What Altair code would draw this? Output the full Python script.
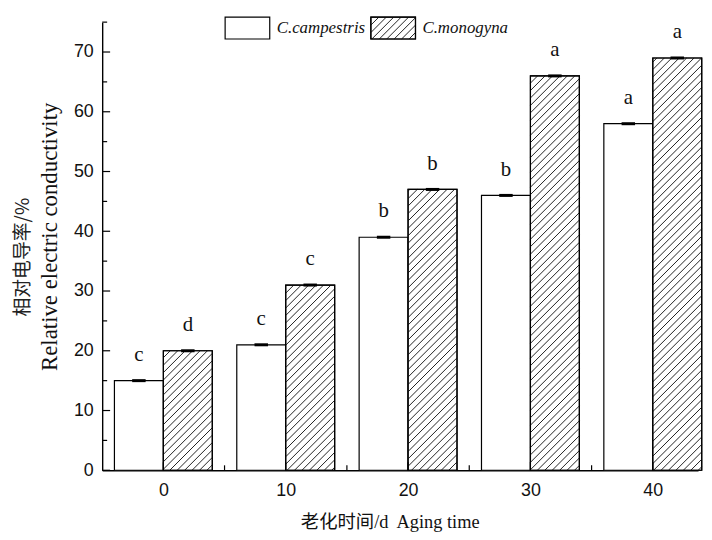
import altair as alt
import pandas as pd
import numpy as np

# ---- data ----
times = [0, 10, 20, 30, 40]
campestris = [15, 21, 39, 46, 58]
monogyna = [20, 31, 47, 66, 69]
err_campestris = [0.25, 0.25, 0.25, 0.25, 0.25]
err_monogyna = [0.25, 0.25, 0.25, 0.25, 0.25]
letters_campestris = ["c", "c", "b", "b", "a"]
letters_monogyna = ["d", "c", "b", "a", "a"]
series_names = ["C.campestris", "C.monogyna"]
y_major = [0, 10, 20, 30, 40, 50, 60, 70]
y_minor = [5, 15, 25, 35, 45, 55, 65, 75]
x_major = [0, 10, 20, 30, 40]
x_minor = [5, 15, 25, 35]

# ---- layout ----
W, H = 601, 452
XMIN, XMAX, YMAX = -5, 43.7, 75
BW = 4.0
sx = W / (XMAX - XMIN)
sy = H / YMAX
HATCH = 7.5  # px between hatch lines (horizontal)

xs = alt.Scale(domain=[XMIN, XMAX], nice=False, zero=False)
ys = alt.Scale(domain=[0, YMAX], nice=False, zero=True)

SERIF = "Liberation Serif, Noto Sans CJK SC"
SANS = "Liberation Sans"


def px2x(p):
    return XMIN + p / sx


def px2y(p):
    return YMAX - p / sy


def hatch_segments(x0, y0, wpx, hpx):
    """45-degree '/' hatch lines inside a box whose lower-left corner is (x0, y0) in data units."""
    out = []
    c = -hpx - (hpx % HATCH)
    while c < wpx:
        xa = max(0.0, c)
        xb = min(wpx, hpx + c)
        if xb > xa:
            out.append({"hx0": x0 + xa / sx, "hy0": y0 + (xa - c) / sy,
                        "hx1": x0 + xb / sx, "hy1": y0 + (xb - c) / sy})
        c += HATCH
    return out


# bars
dfc = pd.DataFrame({"x0": [t - BW for t in times], "x1": times, "v": campestris,
                    "b": [0] * len(times)})
dfm = pd.DataFrame({"x0": times, "x1": [t + BW for t in times], "v": monogyna,
                    "b": [0] * len(times)})

# legend boxes (placed at the top of the plot, converted to data units)
LBX = [(124, 169), (271, 316)]
LBY = (-5, 17)
dfl = pd.DataFrame({"x0": [px2x(a) for a, _ in LBX], "x1": [px2x(b) for _, b in LBX],
                    "v": [px2y(LBY[0])] * 2, "b": [px2y(LBY[1])] * 2,
                    "tx": [px2x(b + 7) for _, b in LBX], "ty": [px2y(6)] * 2,
                    "lab": series_names})

segs = []
for t, v in zip(times, monogyna):
    segs += hatch_segments(t, 0.0, BW * sx, v * sy)
segs += hatch_segments(px2x(LBX[1][0]), px2y(LBY[1]), LBX[1][1] - LBX[1][0], LBY[1] - LBY[0])
dfh = pd.DataFrame(segs)

# error bars and letters
dfe = pd.DataFrame({
    "cx": [t - BW / 2 for t in times] + [t + BW / 2 for t in times],
    "v": campestris + monogyna,
    "e": err_campestris + err_monogyna,
    "lab": letters_campestris + letters_monogyna,
})
dfe["ex0"] = dfe["cx"] - 0.55
dfe["ex1"] = dfe["cx"] + 0.55
dfe["ey0"] = dfe["v"] - dfe["e"]
dfe["ey1"] = dfe["v"] + dfe["e"]

x_axis = alt.Axis(values=x_major, format="d", ticks=False, grid=False,
                  domainColor="black", domainWidth=1.4,
                  labelFont=SANS, labelFontSize=18, labelColor="#111",
                  labelPadding=11,
                  title="老化时间/d\u00a0 Aging time", titleFont=SERIF,
                  titleFontSize=18.5, titleFontWeight="normal", titleColor="#111",
                  titleX=290, titleY=52, titleAlign="center", titleBaseline="middle")
y_axis = alt.Axis(values=y_major, format="d", ticks=False, grid=False,
                  domainColor="black", domainWidth=1.4,
                  labelFont=SANS, labelFontSize=18, labelColor="#111",
                  labelPadding=9,
                  title="Relative electric conductivity", titleFont=SERIF,
                  titleFontSize=23, titleFontWeight="normal", titleColor="#111",
                  titleAngle=270, titleX=-53, titleY=216,
                  titleAlign="center", titleBaseline="middle")

# white bars + legend boxes (white background, black frame)
boxes = pd.concat([dfc, dfm, dfl[["x0", "x1", "v", "b"]]], ignore_index=True)
white = alt.Chart(boxes).mark_rect(fill="white", stroke="black", strokeWidth=1.2).encode(
    x=alt.X("x0:Q", scale=xs, axis=x_axis), x2="x1:Q",
    y=alt.Y("v:Q", scale=ys, axis=y_axis), y2="b:Q")

hatch = alt.Chart(dfh).mark_rule(stroke="#222", strokeWidth=1).encode(
    x=alt.X("hx0:Q", scale=xs, axis=x_axis), x2="hx1:Q",
    y=alt.Y("hy0:Q", scale=ys, axis=y_axis), y2="hy1:Q")

outline_df = pd.concat([dfm, dfl[["x0", "x1", "v", "b"]].iloc[[1]]], ignore_index=True)
outline = alt.Chart(outline_df).mark_rect(fill=None, fillOpacity=0, stroke="black", strokeWidth=1.2).encode(
    x=alt.X("x0:Q", scale=xs, axis=x_axis), x2="x1:Q",
    y=alt.Y("v:Q", scale=ys, axis=y_axis), y2="b:Q")

errs = alt.Chart(dfe).mark_rect(fill="black").encode(
    x=alt.X("ex0:Q", scale=xs, axis=x_axis), x2="ex1:Q",
    y=alt.Y("ey0:Q", scale=ys, axis=y_axis), y2="ey1:Q")

letters = alt.Chart(dfe).mark_text(font="Liberation Serif", fontSize=21, color="#111",
                                   baseline="alphabetic", dy=-20).encode(
    x=alt.X("cx:Q", scale=xs, axis=x_axis),
    y=alt.Y("v:Q", scale=ys, axis=y_axis),
    text="lab:N")

leg_text = alt.Chart(dfl).mark_text(font="Liberation Serif", fontStyle="italic", fontSize=17,
                                    color="#111", align="left", baseline="middle").encode(
    x=alt.X("tx:Q", scale=xs, axis=x_axis),
    y=alt.Y("ty:Q", scale=ys, axis=y_axis), text="lab:N")

# inward ticks
yt_major = alt.Chart(pd.DataFrame({"t": y_major})).mark_rule(color="black", strokeWidth=1.2).encode(
    y=alt.Y("t:Q", scale=ys, axis=y_axis), x=alt.value(0), x2=alt.value(8))
yt_minor = alt.Chart(pd.DataFrame({"t": y_minor})).mark_rule(color="black", strokeWidth=1.2).encode(
    y=alt.Y("t:Q", scale=ys, axis=y_axis), x=alt.value(0), x2=alt.value(5))
xt_major = alt.Chart(pd.DataFrame({"t": x_major})).mark_rule(color="black", strokeWidth=1.2).encode(
    x=alt.X("t:Q", scale=xs, axis=x_axis), y=alt.value(H), y2=alt.value(H - 8))
xt_minor = alt.Chart(pd.DataFrame({"t": x_minor})).mark_rule(color="black", strokeWidth=1.2).encode(
    x=alt.X("t:Q", scale=xs, axis=x_axis), y=alt.value(H), y2=alt.value(H - 5))

# Chinese line of the y title
ytitle_cn = alt.Chart(pd.DataFrame({"s": ["相对电导率/%"]})).mark_text(
    font="Noto Sans CJK SC", fontSize=19, color="#222", angle=270,
    align="center", baseline="middle").encode(
    x=alt.value(-80), y=alt.value(237), text="s:N")

chart = alt.layer(
    white, hatch, outline, errs, letters, leg_text,
    yt_major, yt_minor, xt_major, xt_minor, ytitle_cn,
).properties(
    width=W, height=H,
    padding={"left": 95, "top": 12, "right": 6, "bottom": 60},
    autosize=alt.AutoSizeParams(type="none"),
).configure_view(stroke=None)

chart.save("out.html", embed_options={"renderer": "svg", "actions": False})
